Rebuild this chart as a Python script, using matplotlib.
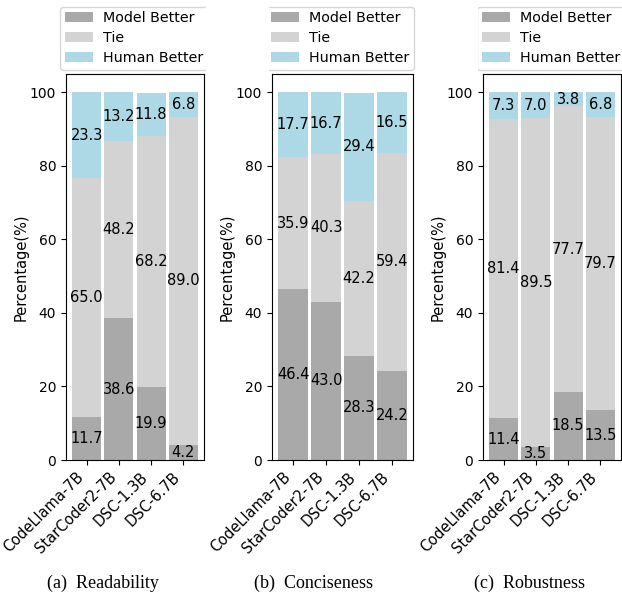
import matplotlib.pyplot as plt
import numpy as np
from matplotlib.patches import Rectangle

plt.rcParams['font.family'] = ['DejaVu Sans']

models = ['CodeLlama-7B', 'StarCoder2-7B', 'DSC-1.3B', 'DSC-6.7B']
captions = ['(a)  Readability', '(b)  Conciseness', '(c)  Robustness']

# 各维度的百分比: Model Better / Tie / Human Better
model_better = [[11.7, 38.6, 19.9, 4.2],
                [46.4, 43.0, 28.3, 24.2],
                [11.4, 3.5, 18.5, 13.5]]
tie = [[65.0, 48.2, 68.2, 89.0],
       [35.9, 40.3, 42.2, 59.4],
       [81.4, 89.5, 77.7, 79.7]]
human_better = [[23.3, 13.2, 11.8, 6.8],
                [17.7, 16.7, 29.4, 16.5],
                [7.3, 7.0, 3.8, 6.8]]

W, H = 622, 598
fig = plt.figure(figsize=(W / 100, H / 100), dpi=100)

# 每个子图的像素位置 (left, right)
px = [(66, 204), (272, 413), (483, 621)]
top, bottom = 74, 460
cap_x = [103, 314, 529]

x = np.arange(len(models))
for i in range(3):
    l, r = px[i]
    ax = fig.add_axes([l / W, (H - bottom) / H, (r - l) / W, (bottom - top) / H])
    m = np.array(model_better[i])
    t = np.array(tie[i])
    h = np.array(human_better[i])
    b1 = ax.bar(x, m, width=0.9, color='darkgray', label='Model Better')
    b2 = ax.bar(x, t, width=0.9, bottom=m, color='lightgray', label='Tie')
    b3 = ax.bar(x, h, width=0.9, bottom=m + t, color='lightblue', label='Human Better')
    for bars in (b1, b2, b3):
        ax.bar_label(bars, fmt='%.1f', label_type='center', fontsize=10.5)
    ax.set_ylim(0, 105)
    ax.set_yticks([0, 20, 40, 60, 80, 100])
    ax.set_xticks(x)
    ax.set_xticklabels(models, rotation=45, ha='right', fontsize=10.5)
    ax.tick_params(axis='y', labelsize=10)
    ax.set_ylabel('Percentage(%)', fontsize=10.5, labelpad=1)
    ax.legend(loc='lower left', bbox_to_anchor=(-6 / (r - l), 1 + 4 / (bottom - top)),
              borderaxespad=0, fontsize=10.3, labelspacing=0.42, borderpad=0.32,
              handletextpad=0.7)
    fig.text(cap_x[i] / W, 1 - 583 / H, captions[i], ha='center', va='center',
             fontsize=13, family='Liberation Serif')

# 模拟原图拼接时的裁切
for x0, x1 in [(206, 268), (417, 477)]:
    fig.patches.append(Rectangle((x0 / W, 1 - 73 / H), (x1 - x0) / W, 73 / H,
                                 transform=fig.transFigure, color='white', zorder=10))

fig.savefig('out.png', dpi=100)
